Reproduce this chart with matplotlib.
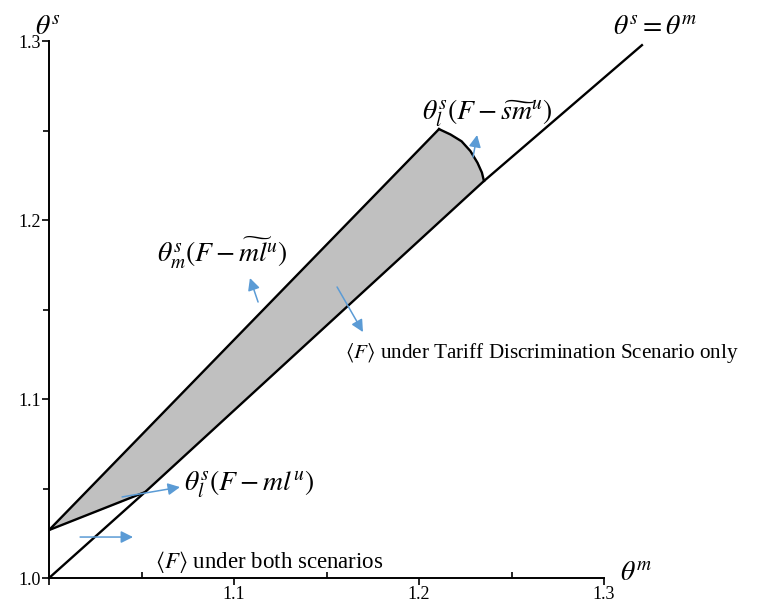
import numpy as np
import matplotlib
matplotlib.use("Agg")
import matplotlib.pyplot as plt

plt.rcParams['font.family'] = ['Liberation Serif', 'DejaVu Serif']
plt.rcParams['mathtext.fontset'] = 'stix'

# diagonal theta^s = theta^m (as drawn)
diag_x = [1.0, 1.0519, 1.2351, 1.3205]
diag_y = [1.0, 1.0480, 1.2218, 1.2977]

# shaded region boundary
upper_x = [1.0, 1.2108]
upper_y = [1.0268, 1.2508]
arc_x = [1.2108, 1.2170, 1.2230, 1.2278, 1.2316, 1.2340, 1.2351]
arc_y = [1.2508, 1.2478, 1.2440, 1.2385, 1.2320, 1.2265, 1.2218]
lower_x = [1.0, 1.0519, 1.2351]
lower_y = [1.0268, 1.0480, 1.2218]

xticks = [1.0, 1.1, 1.2, 1.3]
xticklabels = ['', '1.1', '1.2', '1.3']
yticks = [1.0, 1.1, 1.2, 1.3]
yticklabels = ['1.0', '1.1', '1.2', '1.3']
minor_ticks = [1.05, 1.15, 1.25]

fig = plt.figure(figsize=(7.59, 6.08), dpi=100)
ax = fig.add_axes([0.0646, 0.0493, 0.7312, 0.8832])
ax.set_xlim(1.0, 1.3)
ax.set_ylim(1.0, 1.3)

# region polygon: upper edge, arc, then lower edge back
poly_x = upper_x + arc_x[1:] + lower_x[::-1][1:]
poly_y = upper_y + arc_y[1:] + lower_y[::-1][1:]
ax.fill(poly_x, poly_y, color='#c0c0c0', zorder=1)

ax.plot(upper_x, upper_y, color='black', lw=1.7, zorder=2)
ax.plot(arc_x, arc_y, color='black', lw=1.7, zorder=2)
ax.plot(lower_x[:2], lower_y[:2], color='black', lw=1.7, zorder=2)
ax.plot(diag_x, diag_y, color='black', lw=1.7, zorder=2, clip_on=False)

for s in ['top', 'right']:
    ax.spines[s].set_visible(False)
for s in ['left', 'bottom']:
    ax.spines[s].set_linewidth(1.4)

ax.set_xticks(xticks)
ax.set_xticklabels(xticklabels)
ax.set_yticks(yticks)
ax.set_yticklabels(yticklabels)
ax.set_xticks(minor_ticks, minor=True)
ax.set_yticks(minor_ticks, minor=True)
ax.tick_params(axis='both', which='major', direction='out', length=5, width=1.2, labelsize=13, pad=1)
ax.tick_params(axis='x', which='minor', direction='in', length=4, width=1.2)
ax.tick_params(axis='y', which='minor', direction='out', length=4, width=1.2)

blue = '#5b9bd5'
arr = dict(arrowstyle='-|>', color=blue, lw=1.1, mutation_scale=18, shrinkA=0, shrinkB=0)
ax.annotate('', xy=(1.0454, 1.0229), xytext=(1.0168, 1.0229), arrowprops=arr, annotation_clip=False)
ax.annotate('', xy=(1.0708, 1.0508), xytext=(1.0395, 1.0453), arrowprops=arr, annotation_clip=False)
ax.annotate('', xy=(1.1086, 1.1676), xytext=(1.1130, 1.1542), arrowprops=arr, annotation_clip=False)
ax.annotate('', xy=(1.1697, 1.1374), xytext=(1.1557, 1.1626), arrowprops=arr, annotation_clip=False)
ax.annotate('', xy=(1.2314, 1.2475), xytext=(1.2292, 1.2352), arrowprops=arr, annotation_clip=False)

fs = 20
ax.text(0.9924, 1.3073, r'$\theta^s$', fontsize=fs, ha='left', va='center', clip_on=False)
ax.text(1.3276, 1.3073, r'$\theta^s=\theta^m$', fontsize=fs, ha='center', va='center', clip_on=False)
ax.text(1.3173, 1.0028, r'$\theta^m$', fontsize=fs, ha='center', va='center', clip_on=False)
ax.text(1.2368, 1.2598, r'$\theta_l^s(F-\widetilde{sm}^u)$', fontsize=fs, ha='center', va='center')
ax.text(1.0935, 1.1816, r'$\theta_m^s(F-\widetilde{ml}^u)$', fontsize=fs, ha='center', va='center')
ax.text(1.1081, 1.0525, r'$\theta_l^s(F-ml^u)$', fontsize=fs, ha='center', va='center')
ax.text(1.0573, 1.0089, r'$\langle F\rangle$ under both scenarios', fontsize=16.5, ha='left', va='center')
ax.text(1.16, 1.1257, r'$\langle F\rangle$ under Tariff Discrimination Scenario only', fontsize=15.2,
        ha='left', va='center', clip_on=False)

fig.savefig('out.png', dpi=100)
